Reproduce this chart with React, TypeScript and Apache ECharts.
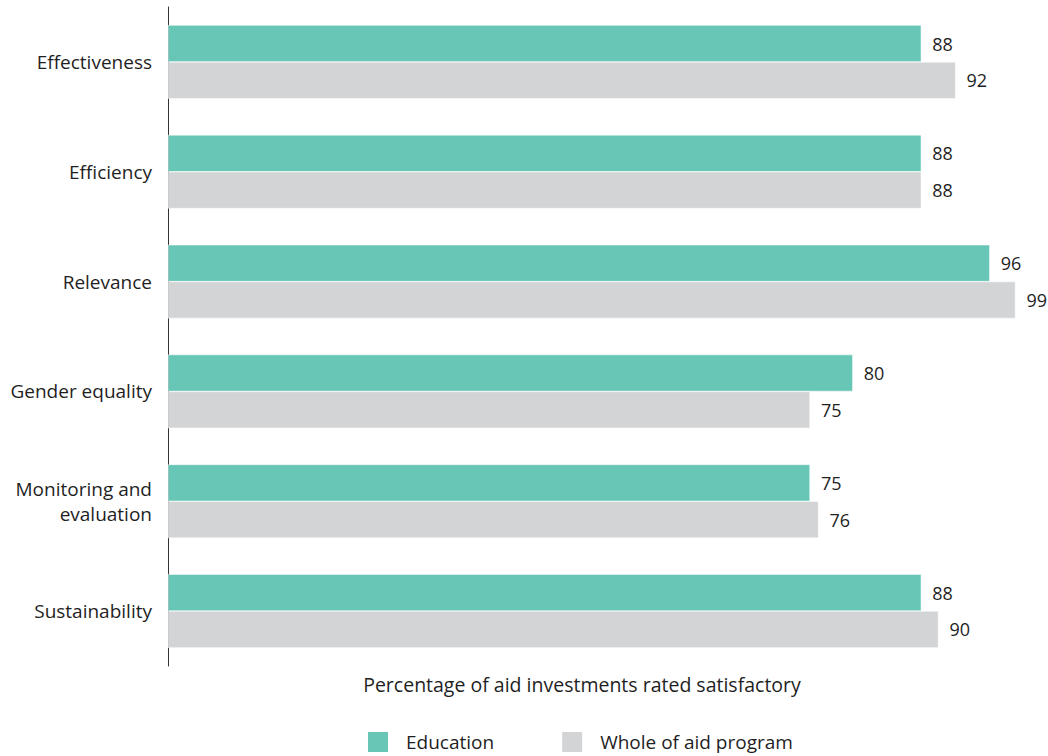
import React, { useEffect, useRef } from "react";
import * as echarts from "echarts";

const categories = [
  "Effectiveness",
  "Efficiency",
  "Relevance",
  "Gender equality",
  "Monitoring and\nevaluation",
  "Sustainability",
];
const education = [88, 88, 96, 80, 75, 88];
const wholeOfAid = [92, 88, 99, 75, 76, 90];
const seriesNames = ["Education", "Whole of aid program"];
const axisTitle = "Percentage of aid investments rated satisfactory";

const FONT = "'Open Sans', 'Noto Sans', sans-serif";
const TEXT = "#1f1f1f";
const FS = 19;

export default function App() {
  const ref = useRef<HTMLDivElement>(null);
  useEffect(() => {
    if (!ref.current) return;
    const chart = echarts.init(ref.current, undefined, { renderer: "svg" });
    const label = {
      show: true,
      position: "right",
      distance: 11,
      color: TEXT,
      fontSize: 18,
      fontFamily: FONT,
    };
    chart.setOption({
      animation: false,
      textStyle: { fontFamily: FONT },
      grid: { left: 168, right: 24, top: 7, bottom: 90, containLabel: false },
      xAxis: {
        type: "value",
        min: 0,
        max: 100,
        show: true,
        axisLine: { show: false },
        axisTick: { show: false },
        axisLabel: { show: false },
        splitLine: { show: false },
        name: axisTitle,
        nameLocation: "middle",
        nameGap: 8,
        nameTextStyle: {
          color: TEXT,
          fontSize: 19.5,
          fontFamily: FONT,
          verticalAlign: "top",
          padding: [0, 28, 0, 0],
        },
      },
      yAxis: {
        type: "category",
        inverse: true,
        data: categories,
        axisLine: { show: true, lineStyle: { color: "#333", width: 1 } },
        axisTick: { show: false },
        axisLabel: {
          color: TEXT,
          fontSize: FS,
          fontFamily: FONT,
          margin: 16,
          align: "right",
          lineHeight: 25,
        },
      },
      legend: {
        bottom: 2,
        left: 366,
        padding: 0,
        itemWidth: 22,
        itemHeight: 22,
        itemGap: 66,
        icon: "rect",
        textStyle: { color: TEXT, fontSize: FS, fontFamily: FONT, padding: [0, 0, 0, 12] },
        data: seriesNames,
      },
      series: [
        {
          name: seriesNames[0],
          type: "bar",
          data: education,
          barGap: "0%",
          barCategoryGap: "33%",
          itemStyle: { color: "#67c6b5", borderColor: "#fff", borderWidth: 0.5 },
          label,
        },
        {
          name: seriesNames[1],
          type: "bar",
          data: wholeOfAid,
          itemStyle: { color: "#d3d4d6", borderColor: "#fff", borderWidth: 0.5 },
          label,
        },
      ],
    });
    return () => chart.dispose();
  }, []);
  return (
    <div
      ref={ref}
      style={{ position: "absolute", left: 0, top: 0, width: 1048, height: 756 }}
    />
  );
}
